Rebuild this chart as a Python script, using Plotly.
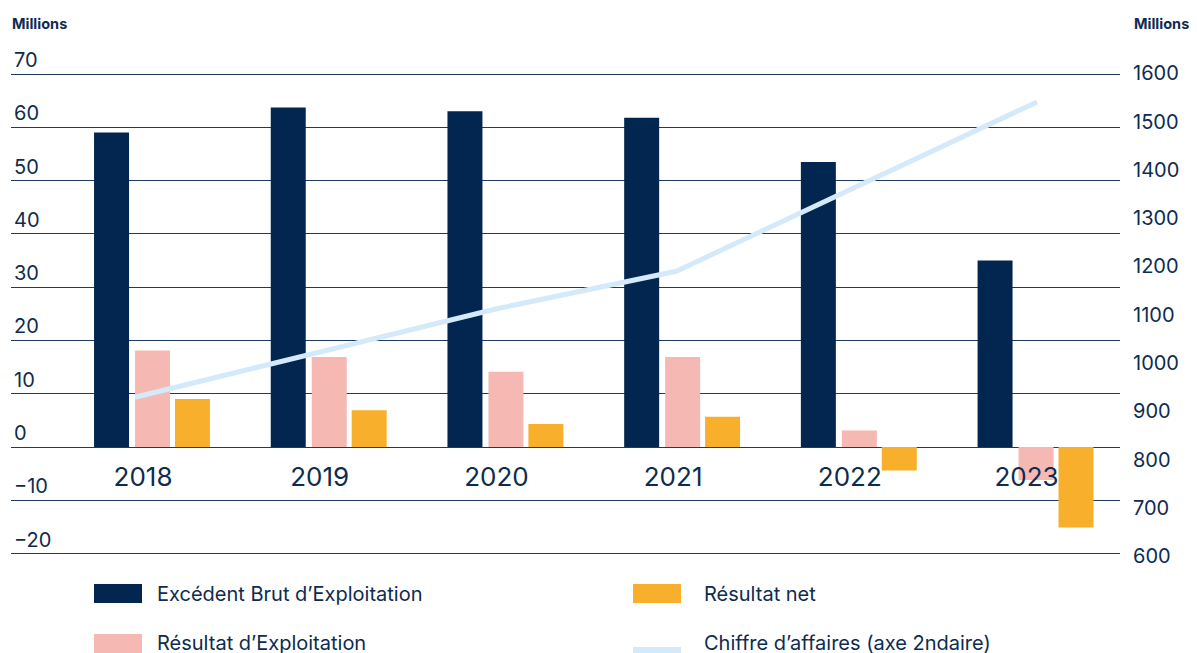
import plotly.graph_objects as go

# ---------------- data ----------------
years = [2018, 2019, 2020, 2021, 2022, 2023]
year_labels = ["2018", "2019", "2020", "2021", "2022", "2023"]
ebe = [59.0, 63.7, 63.0, 61.8, 53.5, 35.0]          # Excédent Brut d'Exploitation
re_ = [18.1, 16.9, 14.1, 16.9, 3.1, -6.2]           # Résultat d'Exploitation
rn = [9.0, 6.9, 4.3, 5.7, -4.4, -15.1]              # Résultat net
ca = [929, 1021, 1112, 1190, 1366, 1541]            # Chiffre d'affaires (axe 2ndaire)

left_ticks = [-20, -10, 0, 10, 20, 30, 40, 50, 60, 70]
right_ticks = [600, 700, 800, 900, 1000, 1100, 1200, 1300, 1400, 1500, 1600]

names = ["Excédent Brut d’Exploitation", "Résultat d’Exploitation", "Résultat net",
         "Chiffre d’affaires (axe 2ndaire)"]

NAVY = "#02264F"
PINK = "#F6B8B3"
ORANGE = "#F8B02C"
LIGHT = "#D4EAFA"
TXT = "#0E2B50"
GRID = "#1E3A5F"
FONT = "Inter, Lato, sans-serif"

# The page body has an 8px margin; the figure is sized/placed to compensate.
OFF = 8
PAGE_W, PAGE_H = 1197, 653
W, H = PAGE_W - OFF, PAGE_H - OFF
# plot area in page pixels
L, R, T, B = 11, 1120, 40, 565

def px_x(p):
    return (p - L) / (R - L)

def px_y(p):
    return (B - p) / (B - T)

fig = go.Figure()
bar_w = 0.198
for vals, color, off, nm in [(ebe, NAVY, -0.277, names[0]),
                             (re_, PINK, -0.045, names[1]),
                             (rn, ORANGE, 0.181, names[2])]:
    fig.add_trace(go.Bar(x=years, y=vals, marker=dict(color=color, line=dict(width=0)),
                         width=bar_w, offset=off, name=nm, showlegend=False))

fig.add_trace(go.Scatter(x=years, y=ca, mode="lines", line=dict(color=LIGHT, width=5),
                         name=names[3], xaxis="x2", yaxis="y2", showlegend=False))

# ---------------- layout ----------------
fig.update_layout(
    width=W, height=H,
    margin=dict(l=L - OFF, r=PAGE_W - R, t=T - OFF, b=PAGE_H - B, pad=0),
    paper_bgcolor="white", plot_bgcolor="white",
    barmode="overlay",
    showlegend=False,
    font=dict(family=FONT, color=TXT),
    xaxis=dict(
        type="linear", range=[2017.253, 2023.529],
        tickvals=years, ticktext=year_labels,
        showgrid=False, zeroline=False, showline=False, ticks="",
        tickfont=dict(size=26, color=TXT),
        anchor="free", position=px_y(447), ticklabelstandoff=12,
    ),
    xaxis2=dict(type="linear", range=[2017.3126, 2023.460], overlaying="x",
                visible=False),
    yaxis=dict(
        range=[-22.145, 76.381], tickvals=left_ticks,
        ticklabelposition="inside top",
        showgrid=True, gridcolor=GRID, gridwidth=1,
        zeroline=True, zerolinecolor=GRID, zerolinewidth=1,
        showline=False, ticks="",
        tickfont=dict(size=20, color=TXT),
    ),
    yaxis2=dict(
        range=[581.35, 1669.4], tickvals=right_ticks,
        overlaying="y", side="right",
        showgrid=False, zeroline=False, showline=False, ticks="",
        tickfont=dict(size=20, color=TXT), ticklabelstandoff=12,
    ),
)

anns = [
    dict(text="<b>Millions</b>", x=px_x(10), y=px_y(24), xanchor="left", yanchor="middle",
         font=dict(size=14.5, color=TXT)),
    dict(text="<b>Millions</b>", x=px_x(1132), y=px_y(24), xanchor="left", yanchor="middle",
         font=dict(size=14.5, color=TXT)),
]
legend_items = [
    (names[0], NAVY, 94, 142, 584, 603, 155, 594),
    (names[2], ORANGE, 633, 681, 584, 603, 702, 594),
    (names[1], PINK, 94, 142, 634, 680, 155, 643),
    (names[3], LIGHT, 633, 681, 647, 680, 702, 643),
]
shapes = []
for nm, col, x0, x1, y0, y1, tx, ty in legend_items:
    shapes.append(dict(type="rect", xref="paper", yref="paper",
                       x0=px_x(x0), x1=px_x(x1), y0=px_y(y0), y1=px_y(y1),
                       fillcolor=col, line=dict(width=0), layer="above"))
    anns.append(dict(text=nm, x=px_x(tx), y=px_y(ty), xanchor="left", yanchor="middle",
                     font=dict(size=20, color=TXT)))
for a in anns:
    a.update(xref="paper", yref="paper", showarrow=False)
fig.update_layout(annotations=anns, shapes=shapes)

fig.write_html("out.html")
